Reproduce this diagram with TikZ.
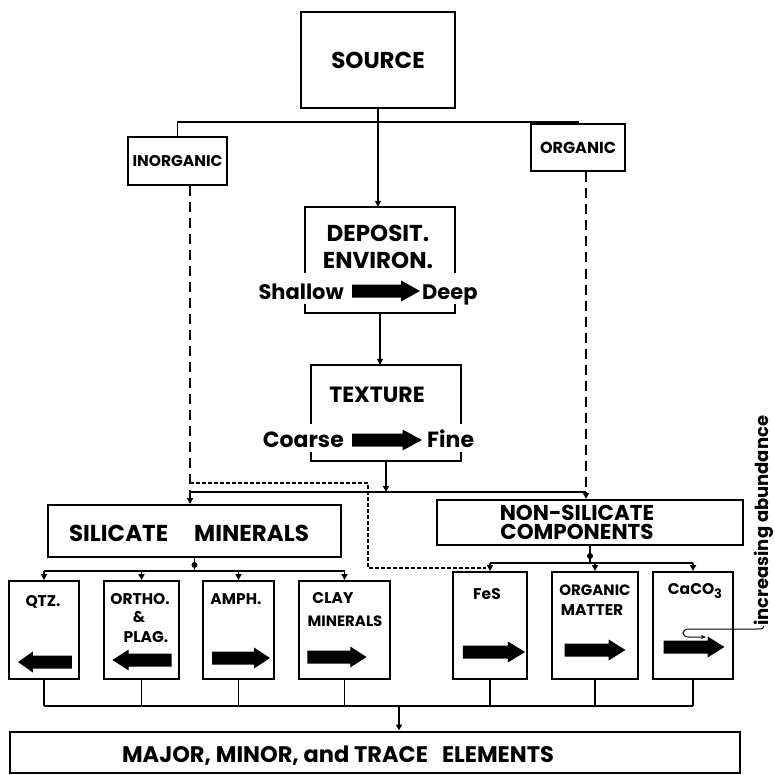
\documentclass[tikz,border=0pt]{standalone}
\usepackage{fontspec}
\setmainfont{Poppins}
\usetikzlibrary{arrows.meta}
\newcommand\myfs[1]{\fontsize{#1}{#1}\selectfont\bfseries}
\begin{document}
\begin{tikzpicture}[x=1pt,y=-1pt,
  box/.style={draw,line width=2pt,inner sep=0pt},
  ibox/.style={inner sep=0pt},
  sbox/.style={draw,line width=1.8pt,inner sep=0pt},
  conn/.style={line width=1.6pt},
  tip/.style={-{Triangle[length=6pt,width=6pt]}},
  ldash/.style={line width=1.6pt,dash pattern=on 10pt off 6pt},
  sdash/.style={line width=1.2pt,dash pattern=on 4pt off 2pt},
  txt/.style={inner sep=0pt},
  jdot/.style={circle,fill,inner sep=0pt,minimum size=6pt},
  blk/.pic={\fill (-29,-6.5) -- (13,-6.5) -- (13,-10.5) -- (29,0) -- (13,10.5) -- (13,6.5) -- (-29,6.5) -- cycle;},
]
\useasboundingbox (0,0) rectangle (775,775);

% ---------- top ----------
\node[box,line width=2.6pt,minimum width=154pt,minimum height=96pt] (source) at (378,60) {\myfs{23}SOURCE};
\node[box,minimum width=99pt,minimum height=48pt] (inorg) at (177.5,161) {\myfs{15.5}INORGANIC};
\node[box,minimum width=94pt,minimum height=47pt] (org) at (578,148) {\myfs{16}ORGANIC};
\coordinate (b1l) at (177.5,122);
\coordinate (b1r) at (578,122);
\draw[conn] (inorg.north) -- (b1l) -- (b1r) -- (org.north);

% ---------- depositional environment ----------
\node[ibox,minimum width=150pt,minimum height=106pt] (dep) at (380,260) {};
\draw[box] (305,273) -- (305,207) -- (455,207) -- (455,273);
\draw[box] (305,304) -- (305,313) -- (455,313) -- (455,304);
\node[txt] (dept1) at (378,233) {\myfs{23}DEPOSIT.};
\node[txt] (dept2) at (378,260) {\myfs{23}ENVIRON.};
\node[txt,anchor=base east] (shallow) at (344,299) {\myfs{21}Shallow};
\node[txt,anchor=base west] (deep) at (422,299) {\myfs{21}Deep};
\pic[xscale=1.17] at (386,291) {blk};
\draw[conn,tip] (source.south) -- (source.south |- dep.north);

% ---------- texture ----------
\node[ibox,minimum width=150pt,minimum height=96pt] (tex) at (386,413) {};
\draw[box] (311,424) -- (311,365) -- (461,365) -- (461,424);
\draw[box] (311,452) -- (311,461) -- (461,461) -- (461,452);
\node[txt] (text1) at (377,395) {\myfs{22}TEXTURE};
\node[txt,anchor=base east] (coarse) at (344,447) {\myfs{22}Coarse};
\node[txt,anchor=base west] (fine) at (427,447) {\myfs{22}Fine};
\pic[xscale=1.2] at (387,440) {blk};
\draw[conn,tip] (dep.south) -- (dep.south |- tex.north);

% ---------- silicate / non-silicate ----------
\node[box,minimum width=293pt,minimum height=52pt] (sil) at (194.5,531) {};
\node[txt] (silt) at (189,533) {\myfs{23}SILICATE\hspace{26pt}MINERALS};
\node[box,minimum width=306pt,minimum height=45pt] (nsil) at (590,522.5) {};
\node[txt,align=center,font=\myfs{21.5}] (nst) at (577,522.5) {NON-SILICATE\\[-3pt]COMPONENTS};

\coordinate (b2l) at (190,492);
\coordinate (b2r) at (586,492);
\coordinate (b2t) at (tex.south |- b2l);
\draw[conn] (b2l) -- (b2r);
\draw[conn,tip] (tex.south) -- (b2t);
\draw[conn,tip] (b2l) -- (b2l |- sil.north);
\draw[conn,tip] (b2r) -- (b2r |- nsil.north);
\draw[ldash] (inorg.south -| b2l) -- (b2l);
\draw[ldash] (org.south -| b2r) -- (b2r);

% ---------- component boxes ----------
\node[sbox,minimum width=70pt,minimum height=98pt] (qtz) at (44,630) {};
\node[sbox,minimum width=75pt,minimum height=98pt] (ortho) at (141.5,630) {};
\node[sbox,minimum width=71pt,minimum height=98pt] (amph) at (238.5,630) {};
\node[sbox,minimum width=91pt,minimum height=98pt] (clay) at (344.5,630) {};
\node[sbox,minimum width=74pt,minimum height=107pt] (fes) at (490,625.5) {};
\node[sbox,minimum width=86pt,minimum height=107pt] (om) at (595,625.5) {};
\node[sbox,minimum width=80pt,minimum height=107pt] (caco) at (693,625.5) {};

\node[txt] (qtzt) at (43,602) {\myfs{15.5}QTZ.};
\node[txt] (orthot1) at (140,599) {\myfs{15.5}ORTHO.};
\node[txt] (orthot2) at (139,617) {\myfs{15.5}\&};
\node[txt] (orthot3) at (146,637) {\myfs{15.5}PLAG.};
\node[txt] (ampht) at (236,599) {\myfs{15.5}AMPH.};
\node[txt] (clayt1) at (333,598) {\myfs{15.5}CLAY};
\node[txt] (clayt2) at (345,621) {\myfs{15}MINERALS};
\node[txt] (fest) at (487,594) {\myfs{15.5}FeS};
\node[txt] (omt1) at (595,590) {\myfs{15}ORGANIC};
\node[txt] (omt2) at (592,610) {\myfs{15.5}MATTER};
\node[txt] (cacot) at (695,591) {\myfs{15.5}CaCO\raisebox{-4pt}{\myfs{13}3}};

\pic[xscale=-0.93] at (45,662) {blk};
\pic[xscale=-1.02] at (142,660) {blk};
\pic at (241,658) {blk};
\pic[xscale=1.02] at (337,657) {blk};
\pic[xscale=1.07] at (494,652) {blk};
\pic[xscale=1.05] at (595,650) {blk};
\pic[xscale=1.05] at (694,647) {blk};

% silicate branch
\coordinate (b3) at (194.5,571);
\draw[conn] (sil.south) -- (b3);
\node[jdot] (d3) at (194.5,565) {};
\draw[conn] (qtz.north |- b3) -- (clay.north |- b3);
\foreach \n in {qtz,ortho,amph,clay} \draw[conn,tip] (\n.north |- b3) -- (\n.north);

% non-silicate branch
\coordinate (b4) at (590,563);
\draw[conn] (nsil.south) -- (b4);
\node[jdot] (d4) at (590,556) {};
\draw[conn] (fes.north |- b4) -- (caco.north |- b4);
\foreach \n in {fes,om,caco} \draw[conn,tip] (\n.north |- b4) -- (\n.north);

% inorganic branch to FeS
\draw[sdash] (190,483) -- (368,483) -- (368,568) -- (486,568);

% ---------- elements ----------
\node[box,minimum width=730pt,minimum height=41pt] (major) at (375,752) {};
\node[txt] (majt) at (338,756) {\myfs{22.5}MAJOR, MINOR, and TRACE\hspace{14pt}ELEMENTS};
\coordinate (b5) at (399,706);
\foreach \n in {qtz,ortho,amph,clay,fes,om,caco} \draw[conn] (\n.south) -- (\n.south |- b5);
\draw[conn] (qtz.south |- b5) -- (caco.south |- b5);
\draw[conn,tip] (b5) -- (b5 |- major.north);

% ---------- increasing abundance ----------
\node[txt,rotate=90,anchor=west] (inc) at (764,626) {\myfs{18}increasing abundance};
\draw[line width=1pt,-{Stealth[length=5pt,width=4pt]}] (inc.west) .. controls (763,629) .. (757,629) -- (689,629) .. controls (681,629) and (681,637) .. (689,637) -- (706,637);
\end{tikzpicture}
\end{document}
